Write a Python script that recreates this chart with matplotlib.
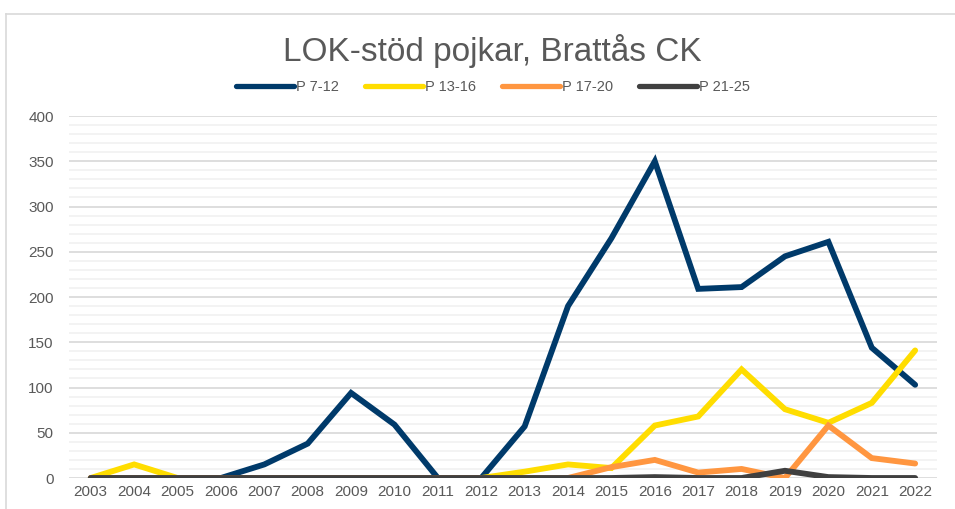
import matplotlib.pyplot as plt
from matplotlib.lines import Line2D
from matplotlib.ticker import MultipleLocator

plt.rcParams['font.family'] = ['Liberation Sans', 'DejaVu Sans']

years = [str(y) for y in range(2003, 2023)]
p_7_12 = [0, 0, 0, 0, 15, 38, 94, 59, 0, 0, 57, 190, 265, 350, 209, 211, 245, 261, 144, 103]
p_13_16 = [0, 15, 0, 0, 0, 0, 0, 0, 0, 0, 7, 15, 11, 58, 68, 120, 76, 61, 83, 141]
p_17_20 = [0, 0, 0, 0, 0, 0, 0, 0, 0, 0, 0, 0, 12, 20, 6, 10, 0, 58, 22, 16]
p_21_25 = [0, 0, 0, 0, 0, 0, 0, 0, 0, 0, 0, 0, 0, 1, 0, 0, 8, 1, 0, 0]

series = [
    ('P 7-12', p_7_12, '#003A6A'),
    ('P 13-16', p_13_16, '#FFDD00'),
    ('P 17-20', p_17_20, '#FF9640'),
    ('P 21-25', p_21_25, '#404040'),
]

fig = plt.figure(figsize=(9.55, 5.09), dpi=100)
ax = fig.add_axes([0.0723, 0.0609, 0.9087, 0.7111])

x = list(range(len(years)))
for name, vals, col in series:
    ax.plot(x, vals, color=col, lw=4.2, solid_capstyle='round', solid_joinstyle='miter', label=name)

ax.set_xlim(-0.5, len(years) - 0.5)
ax.set_ylim(0, 400)
ax.yaxis.set_major_locator(MultipleLocator(50))
ax.yaxis.set_minor_locator(MultipleLocator(10))
ax.set_xticks(x)
ax.set_xticklabels(years)
ax.grid(axis='y', which='major', color='#D4D4D4', lw=1.1)
ax.grid(axis='y', which='minor', color='#F0F0F0', lw=1.1)
ax.set_axisbelow(True)
for s in ax.spines.values():
    s.set_visible(False)
ax.tick_params(axis='both', which='both', length=0, labelsize=11, colors='#595959')
ax.tick_params(axis='x', pad=5)
ax.tick_params(axis='y', pad=11)

fig.text(0.515, 0.90, 'LOK-stöd pojkar, Brattås CK', ha='center', va='center',
         fontsize=24, color='#595959')

handles = [Line2D([0], [0], color=c, lw=3.8, solid_capstyle='round') for _, _, c in series]
fig.legend(handles, [s[0] for s in series], loc='center', bbox_to_anchor=(0.516, 0.829),
           ncol=4, frameon=False, fontsize=10.5, handlelength=4.0, handletextpad=0.1,
           columnspacing=1.8, labelcolor='#595959')

# thin chart border like the Excel chart area
fig.add_artist(Line2D([0.0063, 0.0063], [0, 0.9725], color='#D9D9D9', lw=1.2, transform=fig.transFigure))
fig.add_artist(Line2D([0.0063, 1.0], [0.9725, 0.9725], color='#D9D9D9', lw=1.2, transform=fig.transFigure))

fig.savefig('out.png', dpi=100)
